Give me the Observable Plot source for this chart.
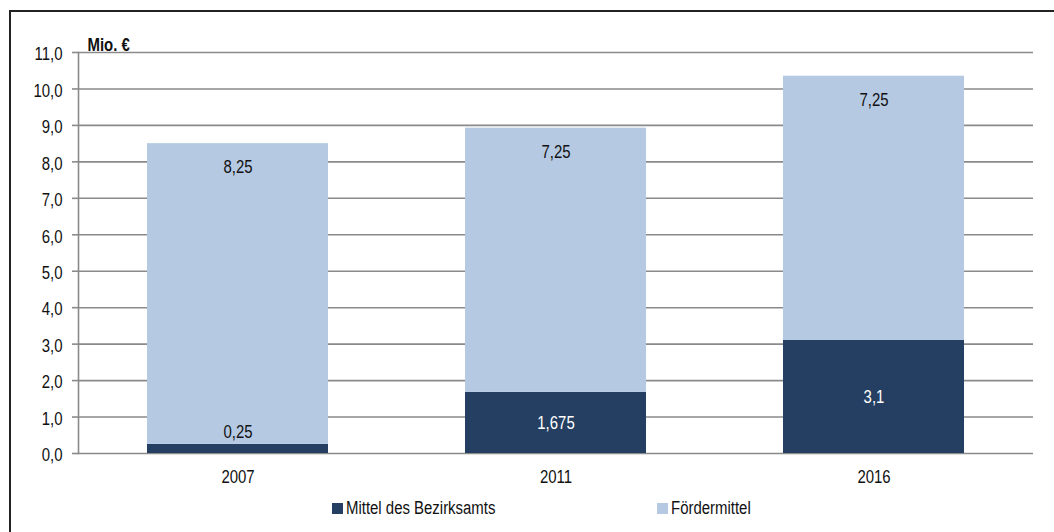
<!DOCTYPE html>
<html>
<head>
<meta charset="utf-8">
<script src="https://cdn.jsdelivr.net/npm/d3@7"></script>
<script src="https://cdn.jsdelivr.net/npm/@observablehq/plot@0.6"></script>
<style>
  html, body { margin: 0; padding: 0; background: #fff; overflow: hidden; }
  body { width: 1054px; height: 532px; position: relative;
         font-family: "Liberation Sans", Arial, sans-serif; }
  #border { position: absolute; left: 9px; top: 10px; width: 1100px; height: 600px;
            border: 2px solid #222; box-sizing: border-box; pointer-events: none; }
  #chart { position: absolute; left: 0; top: 0; }
  .item { position: absolute; top: 497px; height: 22px; display: flex; align-items: center;
          font-size: 18px; color: #111; white-space: nowrap; }
  .sw { width: 11px; height: 11px; margin-right: 3px; display: inline-block; flex: none; }
  .lt { display: inline-block; transform: scaleX(0.83); transform-origin: left center; }
</style>
</head>
<body>
<div id="chart"></div>
<div id="legend"></div>
<div id="border"></div>
<script>
// ---- data ----
const years = ["2007", "2011", "2016"];
const seriesNames = ["Mittel des Bezirksamts", "Fördermittel"];
const bezirksamt = [0.25, 1.675, 3.1];
const foerdermittel = [8.25, 7.25, 7.25];
const yTicks = [0, 1, 2, 3, 4, 5, 6, 7, 8, 9, 10, 11];
const unitLabel = "Mio. €";
const colors = ["#243f61", "#b5c9e3"];

// ---- tables ----
const table = [];
years.forEach((y, i) => {
  table.push({ year: y, series: seriesNames[0], value: bezirksamt[i] });
  table.push({ year: y, series: seriesNames[1], value: foerdermittel[i] });
});
const de = v => String(v).replace(".", ",");

const darkLabels = years.map((y, i) => ({
  year: y, v: bezirksamt[i],
  small: bezirksamt[i] < 0.5,
  pos: bezirksamt[i] < 0.5 ? bezirksamt[i] : bezirksamt[i] / 2
}));
const lightLabels = years.map((y, i) => ({
  year: y, v: foerdermittel[i], top: bezirksamt[i] + foerdermittel[i]
}));

const W = 1054, H = 490;
const chart = Plot.plot({
  width: W,
  height: H,
  marginLeft: 78,
  marginRight: 21,
  marginTop: 52,
  marginBottom: H - 453,
  style: { fontFamily: '"Liberation Sans", Arial, sans-serif', fontSize: "18px", color: "#111", background: "transparent" },
  x: { domain: years, paddingInner: 0.43, paddingOuter: 0.215, label: null },
  y: { domain: [0, 11], label: null },
  color: { domain: seriesNames, range: colors },
  marks: [
    Plot.ruleY(yTicks, { stroke: "#8a8a8a", strokeWidth: 1.6 }),
    Plot.barY(table, { x: "year", y: "value", fill: "series", order: seriesNames }),
    Plot.frame({ anchor: "left", stroke: "#8a8a8a", strokeWidth: 1.6 }),
    Plot.axisY({ ticks: yTicks, tickSize: 6, stroke: "#8a8a8a", strokeWidth: 1.6, tickFormat: () => "", label: null }),
    Plot.axisY({ ticks: yTicks, tickSize: 0, tickPadding: 16, dy: 2, fill: "#111",
                 tickFormat: d => d3.format(".1f")(d).replace(".", ","), label: null }),
    Plot.axisX({ tickSize: 0, tickPadding: 17, fill: "#111", label: null }),
    Plot.text(darkLabels.filter(d => !d.small), { x: "year", y: "pos", text: d => de(d.v), fill: "#fff" }),
    Plot.text(darkLabels.filter(d => d.small), { x: "year", y: "pos", text: d => de(d.v), fill: "#111", dy: -12 }),
    Plot.text(lightLabels, { x: "year", y: "top", text: d => de(d.v), fill: "#111", dy: 24 }),
    Plot.text([unitLabel], { frameAnchor: "top-left", text: d => d, textAnchor: "start", dx: 9, dy: -14,
                             fontWeight: "bold", fill: "#111" })
  ]
});
document.getElementById("chart").appendChild(chart);

// condense all SVG text (reference uses a narrow sans face)
const NARROW = 0.83;
chart.querySelectorAll("text").forEach(t => {
  const len = t.getComputedTextLength();
  if (len > 0) {
    t.setAttribute("textLength", (len * NARROW).toFixed(2));
    t.setAttribute("lengthAdjust", "spacingAndGlyphs");
  }
});

// ---- legend ----
const legend = document.getElementById("legend");
const legendLeft = [332, 657];
seriesNames.forEach((name, i) => {
  const it = document.createElement("div");
  it.className = "item";
  it.style.left = legendLeft[i] + "px";
  const sw = document.createElement("span");
  sw.className = "sw";
  sw.style.background = colors[i];
  const tx = document.createElement("span");
  tx.className = "lt";
  tx.textContent = name;
  it.appendChild(sw);
  it.appendChild(tx);
  legend.appendChild(it);
});
</script>
</body>
</html>
